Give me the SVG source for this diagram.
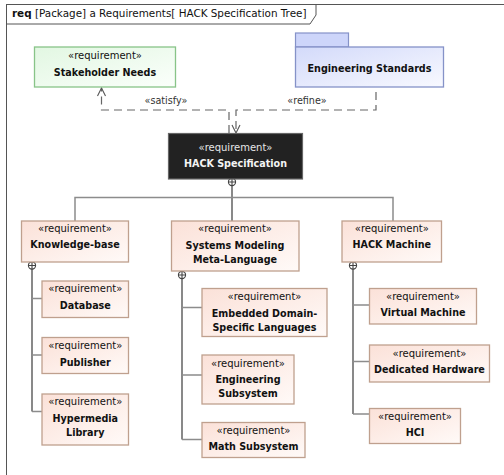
<svg xmlns="http://www.w3.org/2000/svg" width="504" height="475" viewBox="0 0 504 475">
  <defs>
    <linearGradient id="reqFill" x1="0" y1="0" x2="1" y2="1">
      <stop offset="0" stop-color="#fbe1d8"/>
      <stop offset="1" stop-color="#fffaf8"/>
    </linearGradient>
    <linearGradient id="greenFill" x1="0" y1="0" x2="1" y2="1">
      <stop offset="0" stop-color="#e2f7e2"/>
      <stop offset="1" stop-color="#fbfffb"/>
    </linearGradient>
    <linearGradient id="blueFill" x1="0" y1="0" x2="1" y2="1">
      <stop offset="0" stop-color="#d3dafa"/>
      <stop offset="1" stop-color="#f8f9ff"/>
    </linearGradient>
    <marker id="openArrow" viewBox="0 0 10 10" refX="9" refY="5" markerWidth="10" markerHeight="10" markerUnits="userSpaceOnUse" orient="auto">
      <path d="M1,1 L9,5 L1,9" fill="none" stroke="#555" stroke-width="1.1"/>
    </marker>
    <g id="ownPlus">
      <circle cx="0" cy="0" r="3.6" fill="#fff" stroke="#444" stroke-width="1.1"/>
      <path d="M-3.6,0 H3.6 M0,-3.6 V3.6" stroke="#444" stroke-width="1.1"/>
    </g>
  </defs>
  <style>
    text { font-family: "DejaVu Sans", Verdana, sans-serif; text-anchor: middle; fill: #111; }
    .st { font-size: 10px; }
    .nm { font-size: 9.6px; font-weight: bold; }
    .req { fill: url(#reqFill); stroke: #bfa08e; stroke-width: 1.3; }
    .tree { fill: none; stroke: #626262; stroke-width: 1.5; }
    .twig { fill: none; stroke: #8c8c8c; stroke-width: 1.3; }
    .bar { fill: none; stroke: #8c8c8c; stroke-width: 1.5; }
    .dep { fill: none; stroke: #666; stroke-width: 1.2; stroke-dasharray: 8 5; }
    .lbl { font-size: 9.6px; fill: #333; }
  </style>

  <!-- diagram frame -->
  <g id="frame">
    <rect x="6.5" y="4.5" width="520" height="490" fill="#fff" stroke="#555" stroke-width="1"/>
    <path d="M6.5,24 H310 L316,15 V4.5" fill="none" stroke="#555" stroke-width="1"/>
    <text x="12" y="17" style="text-anchor:start;font-size:10.4px"><tspan font-weight="bold">req</tspan> [Package] a Requirements[ HACK Specification Tree]</text>
  </g>

  <!-- connectors -->
  <g id="connectors">
    <path class="dep" d="M229,133 V110 H101.5 V88" marker-end="url(#openArrow)"/>
    <path class="dep" d="M376,92 V110 H236 V133" marker-end="url(#openArrow)"/>
    <text class="lbl" x="166" y="104">«satisfy»</text>
    <text class="lbl" x="307" y="104">«refine»</text>

    <path class="tree" d="M232,186 V221"/>
    <path class="bar" d="M75,221 V197.5 H393 V221"/>

    <path class="tree" d="M32,269 V411.5"/>
    <path class="twig" d="M32,298.5 H42 M32,355 H42 M32,411.5 H42"/>

    <path class="tree" d="M182,279 V439.5"/>
    <path class="twig" d="M182,307.5 H202 M182,375 H202 M182,439.5 H202"/>

    <path class="tree" d="M353,269 V414"/>
    <path class="twig" d="M353,305 H369 M353,361.5 H369 M353,414 H369"/>

    <use href="#ownPlus" x="232" y="182"/>
    <use href="#ownPlus" x="32" y="265.5"/>
    <use href="#ownPlus" x="182" y="275"/>
    <use href="#ownPlus" x="353" y="265.5"/>
  </g>

  <g id="stakeholder-needs">
    <rect x="34.5" y="47" width="141" height="40" fill="url(#greenFill)" stroke="#88c488" stroke-width="1.3"/>
    <text class="st" x="105" y="59">«requirement»</text>
    <text class="nm" x="105" y="76">Stakeholder Needs</text>
  </g>

  <g id="engineering-standards">
    <rect x="295.5" y="33" width="53" height="14" fill="#cdd5fa" stroke="#8592c8" stroke-width="1.2"/>
    <rect x="295.5" y="47" width="148" height="40" fill="url(#blueFill)" stroke="#8592c8" stroke-width="1.3"/>
    <text class="nm" x="369.5" y="72">Engineering Standards</text>
  </g>

  <g id="hack-specification">
    <rect x="168.5" y="133.5" width="134" height="45.5" fill="#222" stroke="#666" stroke-width="1.2"/>
    <text class="st" x="235.5" y="151" style="fill:#e6e6e6">«requirement»</text>
    <text class="nm" x="235.5" y="167" style="fill:#f4f4f4">HACK Specification</text>
  </g>

  <g id="knowledge-base">
    <rect class="req" x="21.5" y="221" width="107" height="41"/>
    <text class="st" x="75" y="232">«requirement»</text>
    <text class="nm" x="75" y="248">Knowledge-base</text>
  </g>

  <g id="database">
    <rect class="req" x="42" y="281" width="86.5" height="36.5"/>
    <text class="st" x="85.3" y="292">«requirement»</text>
    <text class="nm" x="85.3" y="309">Database</text>
  </g>

  <g id="publisher">
    <rect class="req" x="42" y="337.5" width="86.5" height="36"/>
    <text class="st" x="85.3" y="348.5">«requirement»</text>
    <text class="nm" x="85.3" y="365.5">Publisher</text>
  </g>

  <g id="hypermedia-library">
    <rect class="req" x="42" y="394" width="86.5" height="51"/>
    <text class="st" x="85.3" y="405">«requirement»</text>
    <text class="nm" x="85.3" y="422">Hypermedia</text>
    <text class="nm" x="85.3" y="436">Library</text>
  </g>

  <g id="systems-modeling-meta-language">
    <rect class="req" x="171.5" y="221" width="127.5" height="50"/>
    <text class="st" x="235" y="232">«requirement»</text>
    <text class="nm" x="235" y="248.5">Systems Modeling</text>
    <text class="nm" x="235" y="262.5">Meta-Language</text>
  </g>

  <g id="embedded-dsl">
    <rect class="req" x="202" y="288.5" width="125" height="48"/>
    <text class="st" x="264.5" y="300">«requirement»</text>
    <text class="nm" x="264.5" y="316.5">Embedded Domain-</text>
    <text class="nm" x="264.5" y="330.5">Specific Languages</text>
  </g>

  <g id="engineering-subsystem">
    <rect class="req" x="202" y="355" width="92" height="49"/>
    <text class="st" x="248" y="366.5">«requirement»</text>
    <text class="nm" x="248" y="383">Engineering</text>
    <text class="nm" x="248" y="397">Subsystem</text>
  </g>

  <g id="math-subsystem">
    <rect class="req" x="202" y="422.5" width="103" height="35"/>
    <text class="st" x="253.5" y="433.5">«requirement»</text>
    <text class="nm" x="253.5" y="450">Math Subsystem</text>
  </g>

  <g id="hack-machine">
    <rect class="req" x="342" y="221" width="99.5" height="41"/>
    <text class="st" x="391.8" y="232">«requirement»</text>
    <text class="nm" x="391.8" y="248">HACK Machine</text>
  </g>

  <g id="virtual-machine">
    <rect class="req" x="369.5" y="288.5" width="107" height="35.5"/>
    <text class="st" x="423" y="299.5">«requirement»</text>
    <text class="nm" x="423" y="316">Virtual Machine</text>
  </g>

  <g id="dedicated-hardware">
    <rect class="req" x="369.5" y="345" width="120" height="37"/>
    <text class="st" x="429.5" y="356.5">«requirement»</text>
    <text class="nm" x="429.5" y="373">Dedicated Hardware</text>
  </g>

  <g id="hci">
    <rect class="req" x="369.5" y="408.5" width="91" height="35"/>
    <text class="st" x="415" y="419.5">«requirement»</text>
    <text class="nm" x="415" y="436">HCI</text>
  </g>
</svg>
